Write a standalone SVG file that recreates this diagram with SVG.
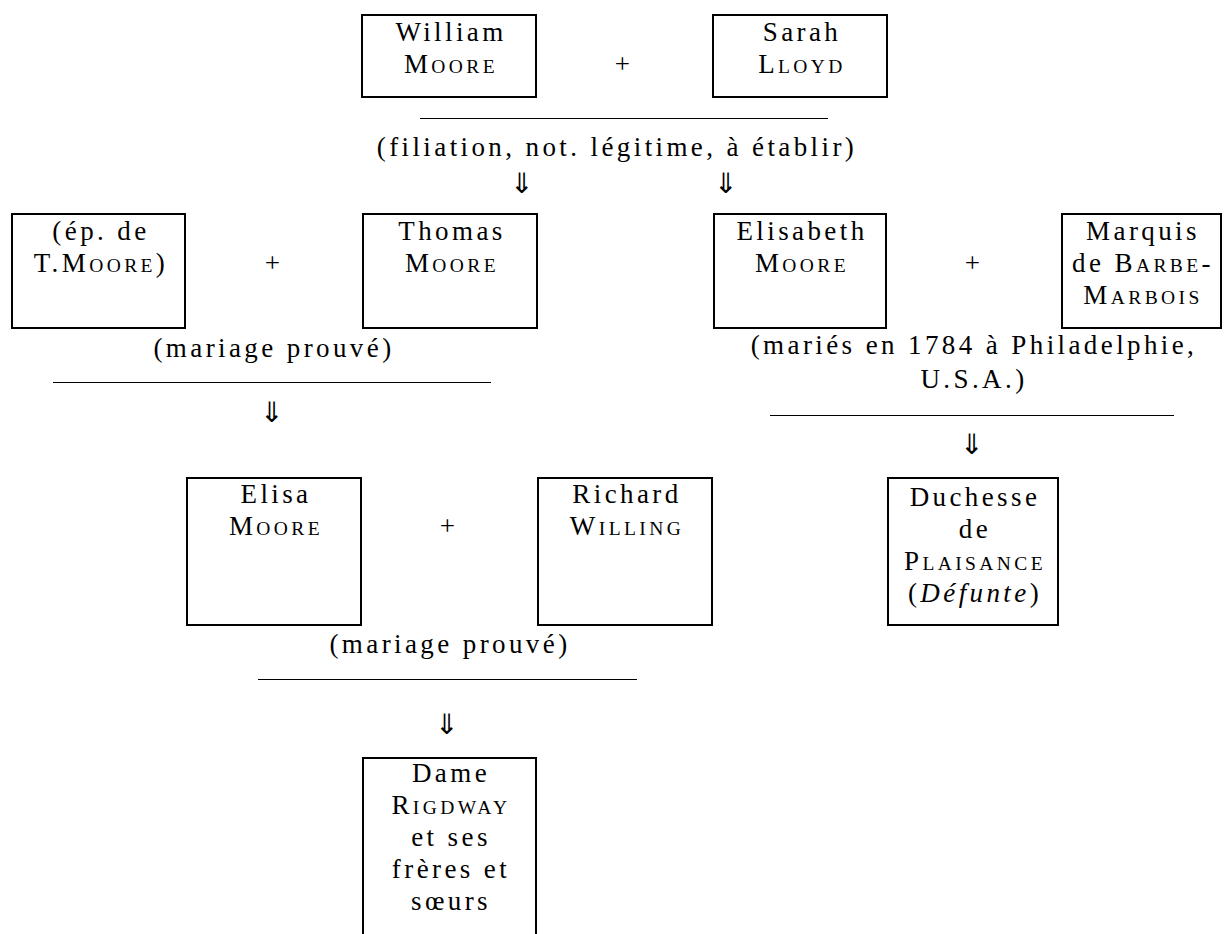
<svg xmlns="http://www.w3.org/2000/svg" width="1227" height="934" viewBox="0 0 1227 934">
<style>
.t{font-family:"Liberation Serif",serif;font-size:27px;letter-spacing:3.4px;text-anchor:middle;fill:#000}
.sc{font-size:19.5px}
.box{fill:none;stroke:#000;stroke-width:2}
.rule{stroke:#000;stroke-width:1}
.arr{font-family:"DejaVu Sans",sans-serif;font-size:28px;text-anchor:middle;fill:#000}
</style>
<rect width="1227" height="934" fill="#fff"/>
<g id="william">
<rect class="box" x="362" y="15" width="174" height="82"/>
<text class="t" x="451" y="41">William</text>
<text class="t" x="451" y="73">M<tspan class="sc">OORE</tspan></text>
</g>
<g id="sarah">
<rect class="box" x="713" y="15" width="174" height="82"/>
<text class="t" x="802" y="41">Sarah</text>
<text class="t" x="802" y="73">L<tspan class="sc">LOYD</tspan></text>
</g>
<g id="epouse">
<rect class="box" x="12" y="214" width="173" height="114"/>
<text class="t" x="101" y="240">(ép. de</text>
<text class="t" x="101" y="272">T.M<tspan class="sc">OORE</tspan>)</text>
</g>
<g id="thomas">
<rect class="box" x="363" y="214" width="174" height="114"/>
<text class="t" x="452" y="240">Thomas</text>
<text class="t" x="452" y="272">M<tspan class="sc">OORE</tspan></text>
</g>
<g id="elisabeth">
<rect class="box" x="714" y="214" width="172" height="114"/>
<text class="t" x="802" y="240">Elisabeth</text>
<text class="t" x="802" y="272">M<tspan class="sc">OORE</tspan></text>
</g>
<g id="marquis">
<rect class="box" x="1062" y="214" width="159" height="114"/>
<text class="t" x="1143" y="240">Marquis</text>
<text class="t" x="1143" y="272">de B<tspan class="sc">ARBE</tspan>-</text>
<text class="t" x="1143" y="304">M<tspan class="sc">ARBOIS</tspan></text>
</g>
<g id="elisa">
<rect class="box" x="187" y="478" width="174" height="147"/>
<text class="t" x="276" y="503">Elisa</text>
<text class="t" x="276" y="535">M<tspan class="sc">OORE</tspan></text>
</g>
<g id="richard">
<rect class="box" x="538" y="478" width="174" height="147"/>
<text class="t" x="627" y="503">Richard</text>
<text class="t" x="627" y="535">W<tspan class="sc">ILLING</tspan></text>
</g>
<g id="duchesse">
<rect class="box" x="888" y="478" width="170" height="147"/>
<text class="t" x="975" y="506">Duchesse</text>
<text class="t" x="975" y="538">de</text>
<text class="t" x="975" y="570">P<tspan class="sc">LAISANCE</tspan></text>
<text class="t" x="975" y="602">(<tspan font-style="italic">Défunte</tspan>)</text>
</g>
<g id="dame">
<rect class="box" x="363" y="758" width="173" height="200"/>
<text class="t" x="451" y="782">Dame</text>
<text class="t" x="451" y="814">R<tspan class="sc">IGDWAY</tspan></text>
<text class="t" x="451" y="846">et ses</text>
<text class="t" x="451" y="878">frères et</text>
<text class="t" x="451" y="910">sœurs</text>
</g>
<g id="connectors">
<text class="t" x="624" y="73">+</text>
<line class="rule" x1="420" y1="118.5" x2="828" y2="118.5"/>
<text class="t" x="617" y="156">(filiation, not. légitime, à établir)</text>
<text class="arr" x="522" y="193">⇓</text>
<text class="arr" x="726" y="193">⇓</text>
<text class="t" x="274" y="272">+</text>
<text class="t" x="274" y="357">(mariage prouvé)</text>
<line class="rule" x1="53" y1="382.5" x2="491" y2="382.5"/>
<text class="arr" x="272" y="422">⇓</text>
<text class="t" x="974" y="272">+</text>
<text class="t" x="974" y="354">(mariés en 1784 à Philadelphie,</text>
<text class="t" x="974" y="388">U.S.A.)</text>
<line class="rule" x1="770" y1="415.5" x2="1174" y2="415.5"/>
<text class="arr" x="972" y="454">⇓</text>
<text class="t" x="449" y="535">+</text>
<text class="t" x="450" y="653">(mariage prouvé)</text>
<line class="rule" x1="258" y1="679.5" x2="637" y2="679.5"/>
<text class="arr" x="447" y="734">⇓</text>
</g>
</svg>
